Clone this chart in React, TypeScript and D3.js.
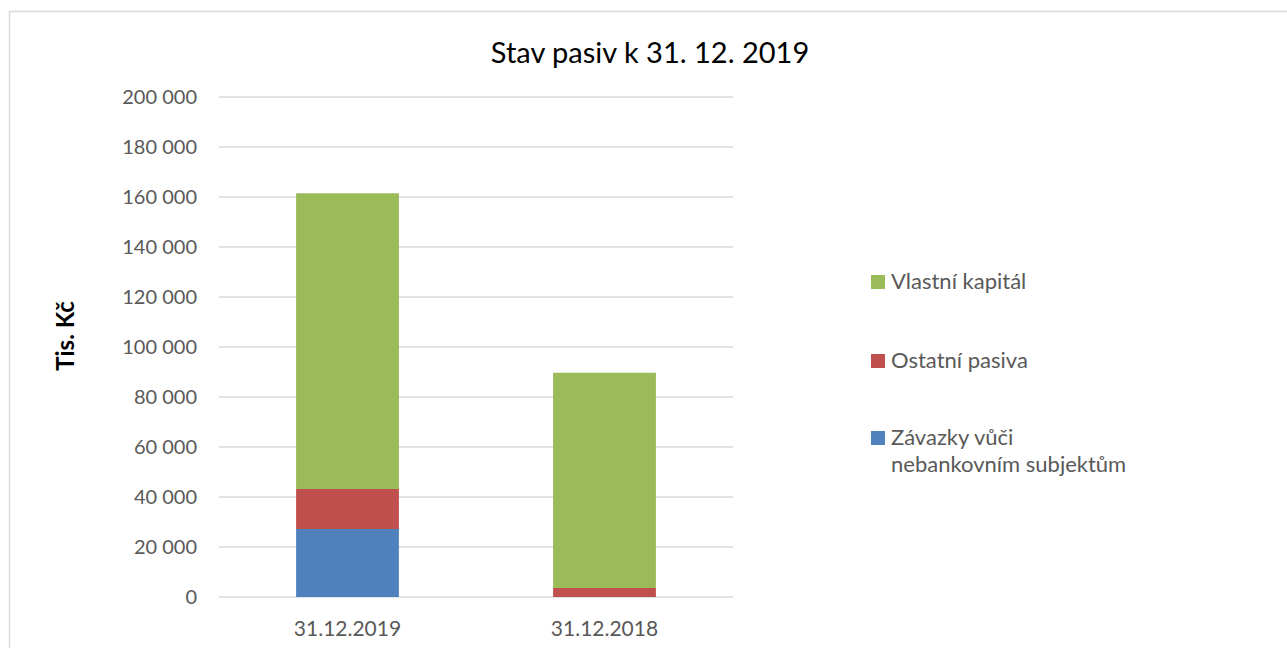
import React, { useEffect, useRef } from 'react';
import * as d3 from 'd3';

const categories = ['31.12.2019', '31.12.2018'];
const seriesNames = ['Závazky vůči nebankovním subjektům', 'Ostatní pasiva', 'Vlastní kapitál'];
const zavazky = [27200, 0];
const ostatni = [16000, 3600];
const kapital = [118300, 86100];
const yTicks = [0, 20000, 40000, 60000, 80000, 100000, 120000, 140000, 160000, 180000, 200000];
const colors = ['#4f81bd', '#c0504d', '#9bbb59'];

const W = 1287;
const H = 648;
const FONT = "Lato, 'Open Sans', sans-serif";

const App = () => {
  const ref = useRef<SVGSVGElement>(null);

  useEffect(() => {
    const svg = d3.select(ref.current);
    svg.selectAll('*').remove();

    // chart frame
    svg.append('rect')
      .attr('x', 9.5).attr('y', 11.5)
      .attr('width', W + 20).attr('height', H + 20)
      .attr('fill', 'white').attr('stroke', '#d9d9d9').attr('stroke-width', 1.5);

    const x = d3.scaleBand().domain(categories).range([219, 733]).paddingInner(0.6).paddingOuter(0.3);
    const y = d3.scaleLinear().domain([0, 200000]).range([597, 97]);

    // gridlines
    svg.append('g')
      .selectAll('line')
      .data(yTicks)
      .enter()
      .append('line')
      .attr('x1', 219).attr('x2', 733)
      .attr('y1', (d) => y(d)).attr('y2', (d) => y(d))
      .attr('stroke', '#d9d9d9').attr('stroke-width', 1.5);

    // y tick labels
    svg.append('g')
      .selectAll('text')
      .data(yTicks)
      .enter()
      .append('text')
      .attr('x', 197).attr('y', (d) => y(d))
      .attr('dy', '0.35em')
      .attr('text-anchor', 'end')
      .attr('font-family', FONT).attr('font-size', 20)
      .attr('fill', '#595959')
      .text((d) => d3.format(',')(d).replace(/,/g, ' '));

    // stacked bars
    const rows = categories.map((c, i) => ({ cat: c, s0: zavazky[i], s1: ostatni[i], s2: kapital[i] }));
    const stack = d3.stack<any>().keys(['s0', 's1', 's2'])(rows);
    stack.forEach((layer, li) => {
      svg.append('g')
        .selectAll('rect')
        .data(layer)
        .enter()
        .append('rect')
        .attr('x', (d: any) => x(d.data.cat)!)
        .attr('width', x.bandwidth())
        .attr('y', (d) => y(d[1]))
        .attr('height', (d) => y(d[0]) - y(d[1]))
        .attr('fill', colors[li]);
    });

    // x labels
    svg.append('g')
      .selectAll('text')
      .data(categories)
      .enter()
      .append('text')
      .attr('x', (d) => x(d)! + x.bandwidth() / 2)
      .attr('y', 636)
      .attr('text-anchor', 'middle')
      .attr('font-family', FONT).attr('font-size', 21)
      .attr('fill', '#595959')
      .text((d) => d);

    // title
    svg.append('text')
      .attr('x', 650).attr('y', 63)
      .attr('text-anchor', 'middle')
      .attr('font-family', FONT).attr('font-size', 29)
      .attr('fill', '#000')
      .text('Stav pasiv k 31. 12. 2019');

    // y axis title
    svg.append('text')
      .attr('transform', 'translate(74,336) rotate(-90)')
      .attr('text-anchor', 'middle')
      .attr('font-family', FONT).attr('font-size', 24).attr('font-weight', 'bold')
      .attr('fill', '#000')
      .text('Tis. Kč');

    // legend
    const legend = [
      { name: seriesNames[2], color: colors[2], y: 275, lines: ['Vlastní kapitál'] },
      { name: seriesNames[1], color: colors[1], y: 354, lines: ['Ostatní pasiva'] },
      { name: seriesNames[0], color: colors[0], y: 431, lines: ['Závazky vůči', 'nebankovním subjektům'] },
    ];
    const lg = svg.append('g');
    legend.forEach((item) => {
      lg.append('rect')
        .attr('x', 871).attr('y', item.y)
        .attr('width', 14).attr('height', 14)
        .attr('fill', item.color);
      item.lines.forEach((line, k) => {
        lg.append('text')
          .attr('x', 891).attr('y', item.y + 14 + k * 27)
          .attr('font-family', FONT).attr('font-size', 22)
          .attr('fill', '#595959')
          .text(line);
      });
    });
  }, []);

  return <svg ref={ref} width={W} height={H} style={{ position: 'absolute', left: 0, top: 0 }} />;
};

export default App;
